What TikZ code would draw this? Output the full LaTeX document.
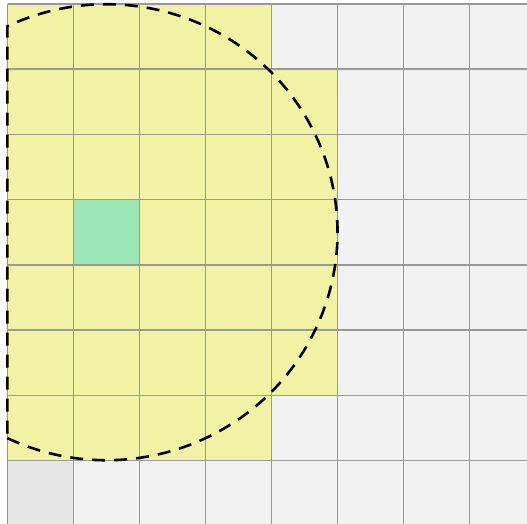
\documentclass[tikz,border=0pt]{standalone}
\definecolor{cellY}{HTML}{F2F2A4}
\definecolor{cellG}{HTML}{9AE6B4}
\definecolor{cellL}{HTML}{F2F2F2}
\definecolor{cellD}{HTML}{E6E6E6}
\definecolor{gridC}{HTML}{999999}
\tikzset{
  gridline/.style={draw=gridC, line width=1.4pt},
  dashcirc/.style={draw=black, line width=2.6pt, dash pattern=on 13pt off 9pt}
}
\begin{document}
\begin{tikzpicture}[x=1pt,y=-1pt]
\useasboundingbox (0,0) rectangle (527,524);
\clip (0,0) rectangle (527,524);
\fill[white] (0,0) rectangle (527,524);
\def\cx{66}
\def\cy{65.2}
\def\ox{7.5}
\def\oy{4}
% base cells
\fill[cellL] (\ox,\oy) rectangle ({\ox+8*\cx},{\oy+8*\cy});
% yellow region
\fill[cellY] (\ox,\oy) rectangle ({\ox+4*\cx},{\oy+7*\cy});
\fill[cellY] ({\ox+4*\cx},{\oy+1*\cy}) rectangle ({\ox+5*\cx},{\oy+6*\cy});
% green cell
\fill[cellG] ({\ox+1*\cx},{\oy+3*\cy}) rectangle ({\ox+2*\cx},{\oy+4*\cy});
% dark corner cell
\fill[cellD] (\ox,{\oy+7*\cy}) rectangle ({\ox+1*\cx},{\oy+8*\cy});
% grid lines
\foreach \i in {0,...,8}{
  \draw[gridline] ({\ox+\i*\cx},\oy) -- ({\ox+\i*\cx},{\oy+8*\cy});
  \draw[gridline] (\ox,{\oy+\i*\cy}) -- ({\ox+8*\cx},{\oy+\i*\cy});
}
% dashed circle, clamped to the grid's left edge
\coordinate (C) at ({\ox+1.5*\cx},{\oy+3.5*\cy});
\draw[dashcirc] (C) ++(115.4:231 and 228)
  arc[start angle=115.4, end angle=-115.4, x radius=231, y radius=228] -- cycle;
\end{tikzpicture}
\end{document}
